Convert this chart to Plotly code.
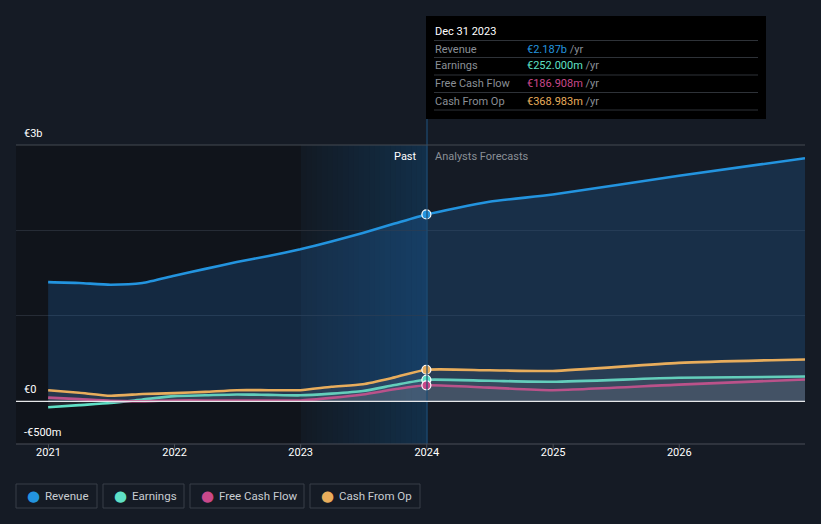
import plotly.graph_objects as go

# ---------------- data (values in € billions) ----------------
past_dates = ["2020-12-31", "2021-03-31", "2021-06-30", "2021-09-30", "2021-12-31",
              "2022-03-31", "2022-06-30", "2022-09-30", "2022-12-31",
              "2023-03-31", "2023-06-30", "2023-09-30", "2023-12-31"]
fc_dates = ["2023-12-31", "2024-06-30", "2024-12-31", "2025-12-31", "2026-12-31"]

revenue_past = [1.395, 1.385, 1.365, 1.385, 1.47, 1.55, 1.63, 1.70, 1.78, 1.87, 1.97, 2.08, 2.187]
revenue_fc = [2.187, 2.335, 2.42, 2.64, 2.845]

earnings_past = [-0.07, -0.045, -0.02, 0.02, 0.06, 0.07, 0.08, 0.075, 0.07, 0.09, 0.12, 0.19, 0.252]
earnings_fc = [0.252, 0.24, 0.228, 0.275, 0.29]

fcf_past = [0.043, 0.025, 0.005, 0.0, 0.01, 0.01, 0.01, 0.01, 0.01, 0.04, 0.08, 0.14, 0.187]
fcf_fc = [0.187, 0.16, 0.13, 0.195, 0.255]

cfo_past = [0.13, 0.10, 0.065, 0.085, 0.095, 0.11, 0.13, 0.13, 0.13, 0.17, 0.20, 0.28, 0.369]
cfo_fc = [0.369, 0.363, 0.355, 0.45, 0.49]

series_names = ["Revenue", "Earnings", "Free Cash Flow", "Cash From Op"]
series_colors = ["#2394df", "#5fe0c6", "#c9488a", "#e8ad5c"]
tooltip_values = ["€2.187b", "€252.000m", "€186.908m", "€368.983m"]
tooltip_date = "Dec 31 2023"

x_tick_vals = ["2021-01-01", "2022-01-01", "2023-01-01", "2024-01-01", "2025-01-01", "2026-01-01"]
x_tick_text = ["2021", "2022", "2023", "2024", "2025", "2026"]
y_labels = [(3.0, "€3b"), (0.0, "€0"), (-0.5, "-€500m")]

# ---------------- layout geometry ----------------
W, H = 821, 524
L, R, T, B = 16, 805, 145, 444
BG = "#151b25"

def px(xp):
    return (xp - L) / (R - L)

def py(yp):
    return (B - yp) / (B - T)

fig = go.Figure()

fills = ["rgba(35,120,200,0.22)", "rgba(120,130,140,0.18)", "rgba(120,130,140,0.18)", "rgba(120,130,140,0.18)"]
pasts = [revenue_past, earnings_past, fcf_past, cfo_past]
fcs = [revenue_fc, earnings_fc, fcf_fc, cfo_fc]

for name, col, fill, pv, fv in zip(series_names, series_colors, fills, pasts, fcs):
    xs = past_dates + fc_dates[1:]
    ys = pv + fv[1:]
    fig.add_trace(go.Scatter(x=xs, y=ys, mode="lines", name=name,
                             line=dict(color=col, width=2.6, shape="spline", smoothing=0.6),
                             fill="tozeroy", fillcolor=fill, hoverinfo="skip", showlegend=False))

for name, col, pv in zip(series_names, series_colors, pasts):
    fig.add_trace(go.Scatter(x=[past_dates[-1]], y=[pv[-1]], mode="markers",
                             marker=dict(color=col, size=9, line=dict(color="white", width=1.2)),
                             hoverinfo="skip", showlegend=False))

shapes = []
shapes.append(dict(type="rect", xref="paper", yref="paper", x0=0, x1=px(301), y0=0, y1=1,
                   fillcolor="#10141b", line=dict(width=0), layer="below"))
n = 24
for i in range(n):
    a0 = 301 + (427 - 301) * i / n
    a1 = 301 + (427 - 301) * (i + 1) / n
    t = (i + 0.5) / n
    r = int(18 + (19 - 18) * t)
    g = int(26 + (48 - 26) * t)
    b = int(36 + (74 - 36) * t)
    shapes.append(dict(type="rect", xref="paper", yref="paper", x0=px(a0), x1=px(a1) + 0.0005,
                       y0=0, y1=1, fillcolor=f"rgb({r},{g},{b})", line=dict(width=0), layer="below"))
shapes.append(dict(type="line", xref="paper", yref="paper", x0=px(427), x1=px(427), y0=0, y1=py(119),
                   line=dict(color="#1d4c73", width=1.2)))
shapes.append(dict(type="line", xref="paper", yref="paper", x0=0, x1=1, y0=1, y1=1,
                   line=dict(color="#454a53", width=1)))
shapes.append(dict(type="line", xref="paper", yref="y", x0=0, x1=1, y0=0, y1=0,
                   line=dict(color="#e6e8ea", width=1.2)))
shapes.append(dict(type="line", xref="paper", yref="paper", x0=0, x1=1, y0=0, y1=0,
                   line=dict(color="#4a4f58", width=1.2)))
for tv in x_tick_vals:
    shapes.append(dict(type="line", xref="x", yref="paper", x0=tv, x1=tv, y0=0, y1=py(449),
                       line=dict(color="#4a4f58", width=1)))

shapes.append(dict(type="rect", xref="paper", yref="paper", x0=px(426), x1=px(766), y0=py(119), y1=py(16),
                   fillcolor="#000000", line=dict(width=0)))
for sy in [40.5, 57.5, 75, 92.5, 110]:
    shapes.append(dict(type="line", xref="paper", yref="paper", x0=px(434), x1=px(758), y0=py(sy), y1=py(sy),
                       line=dict(color="#2e3238", width=1)))

annotations = []
annotations.append(dict(xref="paper", yref="paper", x=px(433), y=py(31), text=tooltip_date, showarrow=False,
                        xanchor="left", yanchor="middle", font=dict(color="#ffffff", size=11, family="Roboto")))
rows_y = [49, 66, 84, 101]
for nm, col, val, ry in zip(series_names, series_colors, tooltip_values, rows_y):
    annotations.append(dict(xref="paper", yref="paper", x=px(433), y=py(ry), text=nm, showarrow=False,
                            xanchor="left", yanchor="middle", font=dict(color="#8a8f96", size=11, family="Roboto")))
    annotations.append(dict(xref="paper", yref="paper", x=px(525), y=py(ry),
                            text=f'<span style="color:{col}">{val}</span> <span style="color:#8a8f96">/yr</span>',
                            showarrow=False, xanchor="left", yanchor="middle",
                            font=dict(size=11, family="Roboto")))

annotations.append(dict(xref="paper", yref="paper", x=px(419), y=py(156), text="Past", showarrow=False,
                        xanchor="right", yanchor="middle", font=dict(color="#ffffff", size=11, family="Roboto")))
annotations.append(dict(xref="paper", yref="paper", x=px(433), y=py(156), text="Analysts Forecasts", showarrow=False,
                        xanchor="left", yanchor="middle", font=dict(color="#8a8f96", size=11, family="Roboto")))

for val, txt in y_labels:
    annotations.append(dict(xref="paper", yref="y", x=px(22), y=val, yshift=12, text=txt, showarrow=False,
                            xanchor="left", yanchor="middle", font=dict(color="#ffffff", size=11, family="Roboto")))

legend_boxes = [(16, 97), (103, 184), (190, 304), (310, 420)]
for (bx0, bx1), nm, col in zip(legend_boxes, series_names, series_colors):
    shapes.append(dict(type="rect", xref="paper", yref="paper", x0=px(bx0), x1=px(bx1), y0=py(508), y1=py(484),
                       fillcolor="rgba(0,0,0,0)", line=dict(color="#383e48", width=1)))
    annotations.append(dict(xref="paper", yref="paper", x=px(bx0 + 9), y=py(496),
                            text=f'<span style="color:{col}">●</span>', showarrow=False,
                            xanchor="left", yanchor="middle", font=dict(size=15, family="DejaVu Sans")))
    annotations.append(dict(xref="paper", yref="paper", x=px(bx0 + 27), y=py(496), text=nm, showarrow=False,
                            xanchor="left", yanchor="middle", font=dict(color="#c9cdd2", size=11.5, family="Roboto")))

fig.update_layout(
    width=W, height=H,
    margin=dict(l=L, r=W - R, t=T, b=H - B),
    paper_bgcolor=BG, plot_bgcolor=BG,
    showlegend=False,
    xaxis=dict(type="date", range=["2020-09-29", "2026-12-31"], tickvals=x_tick_vals, ticktext=x_tick_text,
               showgrid=False, zeroline=False, showline=False, ticks="", ticklen=0,
               tickfont=dict(color="#ffffff", size=11, family="Roboto"), fixedrange=True),
    yaxis=dict(range=[-0.5, 3.0], tickvals=[0, 1, 2, 3], showticklabels=False,
               showgrid=True, gridcolor="#262c36", gridwidth=1, zeroline=False, showline=False,
               fixedrange=True),
    shapes=shapes, annotations=annotations,
)

fig.write_html("out.html", config={"displayModeBar": False},
               post_script="document.body.style.margin='0';document.body.style.background='#151b25';")
